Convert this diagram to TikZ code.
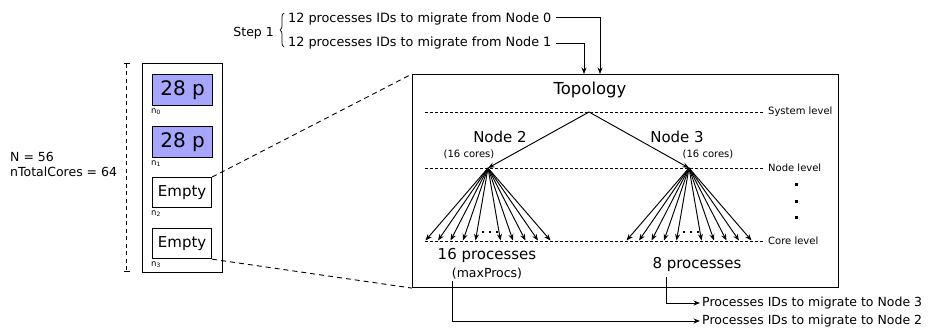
\documentclass[tikz,border=0pt]{standalone}
\usepackage{fontspec}
\setmainfont{DejaVu Sans}
\usetikzlibrary{arrows.meta,decorations.pathreplacing,calc}
\newcommand\myfs[1]{\fontsize{#1}{#1}\selectfont}
\begin{document}
\begin{tikzpicture}[x=1pt,y=-1pt,
  txt/.style={inner sep=0pt},
  pbox/.style={draw, line width=1.2pt, fill=blue!35, minimum width=60pt, minimum height=31pt, inner sep=0pt, anchor=north west, font=\myfs{20}},
  ebox/.style={draw, line width=1.2pt, fill=white, minimum width=59pt, minimum height=30pt, inner sep=0pt, anchor=north west, font=\myfs{15}},
  nlab/.style={inner sep=0pt, anchor=north west, font=\myfs{8.5}},
  arr/.style={line width=0.95pt, -{Stealth[length=6.5pt,width=5pt]}},
  lvl/.style={dash pattern=on 3pt off 2pt, line width=0.7pt},
  conn/.style={dash pattern=on 5pt off 4pt, line width=0.9pt},
  lvllab/.style={inner sep=0pt, anchor=west, font=\myfs{10}},
]
\useasboundingbox (0,0) rectangle (933,327);

% ---------- left column ----------
\node[txt, anchor=base west, font=\myfs{12.5}] (N) at (10,161) {N = 56};
\node[txt, anchor=base west, font=\myfs{12.5}] (NT) at (10,176) {nTotalCores = 64};
\coordinate (vt) at (126.5,63);
\coordinate (vb) at (126.5,272);
\draw[dash pattern=on 4pt off 3.5pt, line width=1pt, {Bar[width=6pt]}-{Bar[width=6pt]}] (vt) -- (vb);

\node[draw, line width=1.3pt, minimum width=80pt, minimum height=209pt, anchor=north west, inner sep=0pt] (col) at (142,63) {};
\node[pbox] (b0) at (152,74) {28 p};
\node[pbox] (b1) at (152,126) {28 p};
\node[ebox] (b2) at (152,177) {Empty};
\node[ebox] (b3) at (152,228) {Empty};
\node[nlab] (l0) at ($(b0.south west)+(-1,2)$) {n\textsubscript{0}};
\node[nlab] (l1) at ($(b1.south west)+(-1,2)$) {n\textsubscript{1}};
\node[nlab] (l2) at ($(b2.south west)+(-1,2)$) {n\textsubscript{2}};
\node[nlab] (l3) at ($(b3.south west)+(-1,2)$) {n\textsubscript{3}};

% ---------- topology box ----------
\node[draw, line width=1.1pt, minimum width=426pt, minimum height=213pt, anchor=north west, inner sep=0pt] (topo) at (412,74) {};
\draw[conn] (b2.north east) -- (topo.north west);
\draw[conn] (b3.south east) -- (topo.south west);

\node[txt, anchor=base, font=\myfs{16.5}] (tt) at (590,94) {Topology};

\coordinate (s0) at (425,112); \coordinate (s1) at (763,112);
\coordinate (q0) at (425,168); \coordinate (q1) at (763,168);
\coordinate (r0) at (425,241); \coordinate (r1) at (763,241);
\draw[lvl] (s0) -- (s1);
\draw[lvl] (q0) -- (q1);
\draw[lvl] (r0) -- (r1);
\node[lvllab] (sl) at (768,112) {System level};
\node[lvllab] (nl) at (768,168) {Node level};
\node[lvllab] (cl) at (768,241) {Core level};

\coordinate (ap) at (589,112);
\coordinate (n2) at (488,168);
\coordinate (n3) at (689,168);
\draw[arr] (ap) -- (n2);
\draw[arr] (ap) -- (n3);

\node[txt, anchor=base, font=\myfs{15}] (N2) at (500,142) {Node 2};
\node[txt, anchor=base, font=\myfs{10}] (c16a) at (469,157) {(16 cores)};
\node[txt, anchor=base, font=\myfs{15}] (N3) at (677,142) {Node 3};
\node[txt, anchor=base, font=\myfs{10}] (c16b) at (708,157) {(16 cores)};

\foreach \d [count=\i] in {-62.5,-50,-37.5,-25,-12.5,12.5,25,37.5,50,62.5} {
  \coordinate (ca\i) at (488+\d,240.5);
  \coordinate (cb\i) at (689+\d,240.5);
  \draw[arr] (n2) -- (ca\i);
  \draw[arr] (n3) -- (cb\i);
}
\foreach \d in {-5,2,9} {
  \fill (487+\d,231) rectangle +(2.2,2.2);
  \fill (688+\d,231) rectangle +(2.2,2.2);
}
\foreach \yy in {184,201,217} {
  \fill (794.5,\yy-1.5) rectangle +(3,3);
}

\node[txt, anchor=base, font=\myfs{15}] (p16) at (487,259) {16 processes};
\node[txt, anchor=base, font=\myfs{12.5}] (mp) at (487,277) {(maxProcs)};
\node[txt, anchor=base, font=\myfs{15}] (p8) at (697,268) {8 processes};

% ---------- bottom outputs ----------
\node[anchor=west, inner sep=2pt, font=\myfs{12.5}] (t3) at (700,303) {Processes IDs to migrate to Node 3};
\node[anchor=west, inner sep=2pt, font=\myfs{12.5}] (t2) at (700,321) {Processes IDs to migrate to Node 2};
\coordinate (m3) at (666,277);
\coordinate (m2) at (452.5,281);
\draw[arr] (m3) |- (t3.west);
\draw[arr] (m2) |- (t2.west);

% ---------- top: step 1 ----------
\node[txt, anchor=base east, font=\myfs{12.5}] (st) at (274,36) {Step 1};
\draw[decorate, decoration={brace, amplitude=4pt}, line width=0.7pt] (284,47) -- (284,13);
\node[txt, anchor=base west, font=\myfs{12.8}] (t0) at (288,22.7) {12 processes IDs to migrate from Node 0};
\node[txt, anchor=base west, font=\myfs{12.8}] (t1) at (288,46.7) {12 processes IDs to migrate from Node 1};
\coordinate (a0) at (556,17);
\coordinate (a1) at (556,43);
\draw[arr] (a0) -| (600,0 |- topo.north);
\draw[arr] (a1) -| (584,0 |- topo.north);
\end{tikzpicture}
\end{document}
